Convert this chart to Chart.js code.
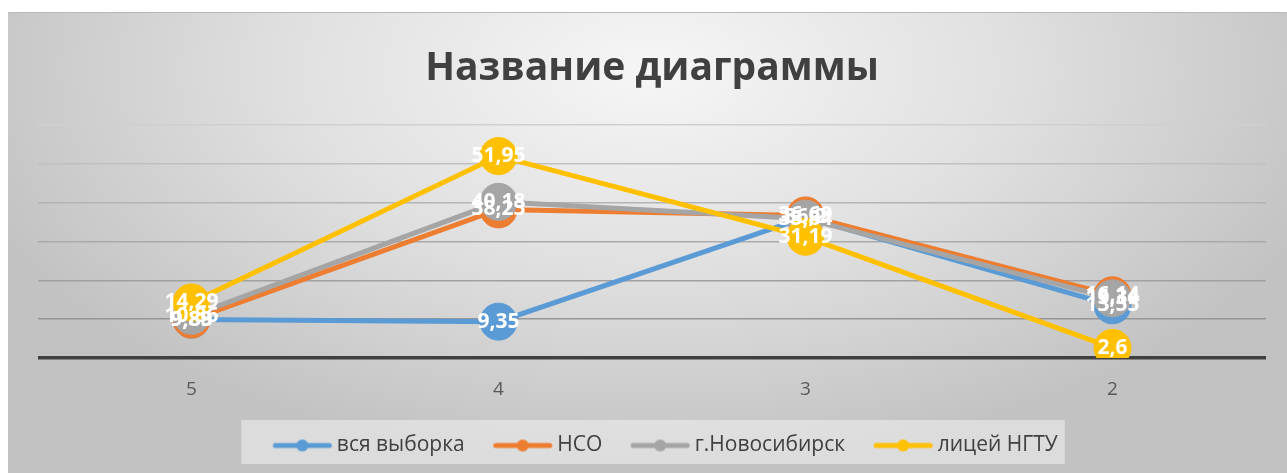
<!DOCTYPE html>
<html>
<head>
<meta charset="utf-8">
<script src="https://cdn.jsdelivr.net/npm/chart.js@4/dist/chart.umd.min.js"></script>
<style>
  html, body { margin: 0; padding: 0; background: #fff; }
  #wrap { width: 1287px; height: 473px; }
</style>
</head>
<body>
<div id="wrap"><canvas id="lineCht" width="1287" height="473"></canvas></div>
<script>
// data
const categories = ['5', '4', '3', '2'];
const seriesNames = ['вся выборка', 'НСО', 'г.Новосибирск', 'лицей НГТУ'];
const allSample = [9.89, 9.35, 36.20, 13.55];
const nso = [9.88, 38.23, 36.69, 16.14];
const novosibirsk = [10.86, 40.18, 35.84, 15.34];
const lyceum = [14.29, 51.95, 31.19, 2.6];
const seriesColors = ['#5b9bd5', '#ed7d31', '#a5a5a5', '#ffc000'];
const yTicks = [0, 10, 20, 30, 40, 50, 60];

const FONT = '"Open Sans", "DejaVu Sans", sans-serif';

// legend marker: line with a dot, image wider than the box so it sits close to the text
function makeMarker(color) {
    let c = document.createElement('canvas');
    c.width = 96; c.height = 14;
    let g = c.getContext('2d');
    g.strokeStyle = color;
    g.lineWidth = 5;
    g.lineCap = 'round';
    g.beginPath();
    g.moveTo(37, 7); g.lineTo(91, 7);
    g.stroke();
    g.fillStyle = color;
    g.beginPath();
    g.arc(64, 7, 6, 0, Math.PI * 2);
    g.fill();
    return c;
}

const bgPlugin = {
    id: 'panelBg',
    beforeDraw(chart) {
        let ctx = chart.ctx;
        ctx.save();
        ctx.fillStyle = '#ffffff';
        ctx.fillRect(0, 0, chart.width, chart.height);
        ctx.beginPath();
        ctx.rect(8, 12, chart.width - 8, chart.height - 12);
        ctx.clip();
        ctx.translate(650, 70);
        ctx.scale(1, 0.55);
        let grd = ctx.createRadialGradient(0, 0, 0, 0, 0, 720);
        grd.addColorStop(0, '#f6f6f6');
        grd.addColorStop(0.5, '#e0e0e0');
        grd.addColorStop(1, '#c2c2c2');
        ctx.fillStyle = grd;
        ctx.fillRect(-700, -200, 1400, 1000);
        ctx.restore();
        ctx.save();
        ctx.fillStyle = '#b8b8b8';
        ctx.fillRect(8, 12, chart.width - 8, 1);
        // legend box
        let lg = chart.legend;
        if (lg && lg.legendHitBoxes && lg.legendHitBoxes.length) {
            let hb = lg.legendHitBoxes;
            let x0 = hb[0].left - 8 + 37 - 34;
            let x1 = hb[hb.length - 1].left + hb[hb.length - 1].width + 7;
            ctx.fillStyle = 'rgba(242,242,242,0.55)';
            ctx.fillRect(x0, 420, x1 - x0, 44);
        }
        ctx.restore();
    }
};

const labelPlugin = {
    id: 'valueLabels',
    afterDatasetsDraw(chart) {
        let ctx = chart.ctx;
        ctx.save();
        ctx.font = 'bold 21px ' + FONT;
        ctx.fillStyle = '#ffffff';
        ctx.textAlign = 'center';
        ctx.textBaseline = 'middle';
        chart.data.datasets.forEach(function(ds, i) {
            let meta = chart.getDatasetMeta(i);
            meta.data.forEach(function(pt, j) {
                ctx.fillText(String(ds.data[j]).replace('.', ','), pt.x, pt.y);
            });
        });
        ctx.restore();
    }
};

const seriesData = [allSample, nso, novosibirsk, lyceum];
const markers = seriesColors.map(makeMarker);

var ctx = document.getElementById('lineCht');
var lineChart = new Chart(ctx, {
    type: 'line',
    data: {
        labels: categories,
        datasets: seriesData.map(function(vals, i) {
            return {
                label: seriesNames[i],
                data: vals,
                borderColor: seriesColors[i],
                backgroundColor: seriesColors[i],
                pointBackgroundColor: seriesColors[i],
                pointBorderColor: seriesColors[i],
                pointBorderWidth: 1,
                pointRadius: 18.5,
                pointHoverRadius: 18.5,
                borderWidth: 5,
                tension: 0,
                order: 4 - i
            };
        })
    },
    plugins: [bgPlugin, labelPlugin],
    options: {
        responsive: false,
        animation: false,
        events: [],
        layout: { padding: { left: 38, right: 21, top: 12, bottom: 7 } },
        plugins: {
            title: {
                display: true,
                text: 'Название диаграммы',
                color: '#404040',
                font: { family: FONT, size: 39, weight: 'bold' },
                padding: { top: 33, bottom: 33 }
            },
            legend: {
                display: true,
                position: 'bottom',
                labels: {
                    usePointStyle: true,
                    pointStyleWidth: 80,
                    padding: 2,
                    color: '#404040',
                    font: { family: FONT, size: 21 },
                    generateLabels: function(chart) {
                        return seriesNames.map(function(n, i) {
                            return {
                                text: n,
                                pointStyle: markers[i],
                                fillStyle: seriesColors[i],
                                strokeStyle: seriesColors[i],
                                lineWidth: 0,
                                fontColor: '#404040',
                                datasetIndex: i
                            };
                        });
                    }
                }
            },
            tooltip: { enabled: false }
        },
        scales: {
            x: {
                offset: true,
                grid: { display: false, drawTicks: false },
                border: { display: false },
                ticks: { color: '#595959', padding: 20, font: { family: FONT, size: 19 } },
                afterFit: function(scale) { scale.height = 75; }
            },
            y: {
                min: yTicks[0],
                max: yTicks[yTicks.length - 1],
                afterBuildTicks: function(scale) {
                    scale.ticks = yTicks.map(function(v) { return { value: v }; });
                },
                ticks: { display: false },
                border: { display: false },
                grid: {
                    drawTicks: false,
                    color: function(c) {
                        if (c.tick && c.tick.value === 0) return '#404040';
                        let shades = ['#404040', '#959595', '#a0a0a0', '#aaaaaa', '#b4b4b4', '#c0c0c0', '#cfcfcf'];
                        return shades[c.index] || '#cccccc';
                    },
                    lineWidth: function(c) {
                        return (c.tick && c.tick.value === 0) ? 3.5 : 1.5;
                    }
                },
                afterFit: function(scale) { scale.width = 0; }
            }
        }
    }
});
</script>
</body>
</html>
